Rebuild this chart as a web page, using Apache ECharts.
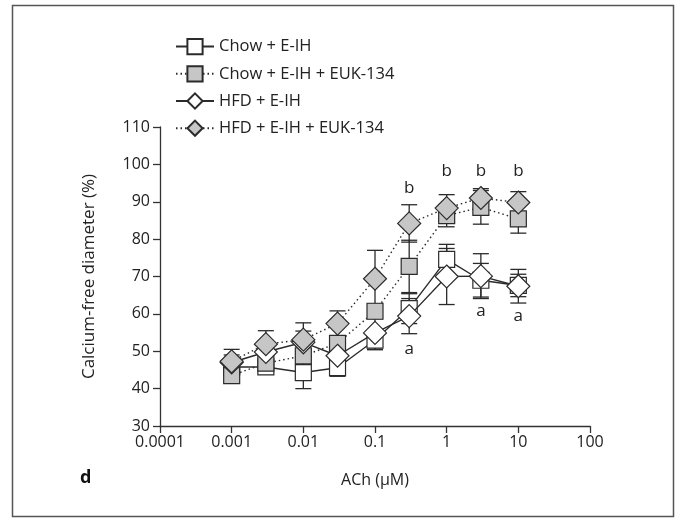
<!DOCTYPE html>
<html>
<head>
<meta charset="utf-8">
<script src="https://cdn.jsdelivr.net/npm/echarts@6/dist/echarts.min.js"></script>
<style>html,body{margin:0;padding:0;background:#fff}#c{width:677px;height:518px}</style>
</head>
<body>
<div id="c"></div>
<script>
// ---- data ----
const concentrations = [0.001, 0.003, 0.01, 0.03, 0.1, 0.3, 1, 3, 10];
const chowEIH      = [45.8, 45.8, 44.3, 45.6, 53.0, 61.4, 74.6, 69.0, 67.6];
const chowEIHErr   = [2.0, 1.5, 4.3, 2.3, 2.5, 4.0, 4.0, 4.5, 3.0];
const chowEUK      = [43.5, 46.8, 48.8, 52.1, 60.7, 72.7, 86.3, 88.5, 85.4];
const chowEUKErr   = [2.0, 2.7, 2.5, 2.0, 2.0, 7.0, 3.0, 4.5, 3.8];
const hfdEIH       = [47.0, 49.8, 52.4, 48.8, 54.9, 59.4, 70.0, 70.1, 67.4];
const hfdEIHErr    = [2.0, 2.0, 3.0, 3.0, 4.5, 4.7, 7.5, 6.0, 4.5];
const hfdEUK       = [47.3, 51.9, 53.1, 57.4, 69.4, 84.2, 88.3, 91.0, 89.8];
const hfdEUKErr    = [3.2, 3.6, 4.5, 3.4, 7.6, 5.0, 3.6, 2.5, 2.9];
const seriesNames  = ['Chow + E-IH', 'Chow + E-IH + EUK-134', 'HFD + E-IH', 'HFD + E-IH + EUK-134'];
const xTickLabels  = ['0.0001', '0.001', '0.01', '0.1', '1', '10', '100'];
const yTicks       = [30, 40, 50, 60, 70, 80, 90, 100, 110];
const annX         = [0.3, 1, 3, 10, 0.3, 3, 10];
const annY         = [93.6, 98.2, 98.2, 98.2, 50.6, 60.6, 59.3];
const annText      = ['b', 'b', 'b', 'b', 'a', 'a', 'a'];

const FONT = '"Open Sans"';
const INK = '#2b2b2b';
const GREY = '#c6c6c6';

function pairs(vals) { return concentrations.map((x, i) => [x, vals[i]]); }
function errData(vals, errs) { return concentrations.map((x, i) => [x, vals[i], errs[i]]); }

function errSeries(vals, errs, z) {
  return {
    type: 'custom',
    z: z,
    silent: true,
    data: errData(vals, errs),
    renderItem: function (params, api) {
      const x = api.value(0), y = api.value(1), e = api.value(2);
      const top = api.coord([x, y + e]);
      const bot = api.coord([x, y - e]);
      const w = 8;
      const st = { stroke: INK, lineWidth: 1.3 };
      return {
        type: 'group',
        children: [
          { type: 'line', shape: { x1: top[0], y1: top[1], x2: bot[0], y2: bot[1] }, style: st },
          { type: 'line', shape: { x1: top[0] - w, y1: top[1], x2: top[0] + w, y2: top[1] }, style: st },
          { type: 'line', shape: { x1: bot[0] - w, y1: bot[1], x2: bot[0] + w, y2: bot[1] }, style: st }
        ]
      };
    }
  };
}

function lineSeries(name, vals, symbol, size, fill, dotted, z) {
  return {
    type: 'line',
    name: name,
    z: z,
    data: pairs(vals),
    symbol: symbol,
    symbolSize: size,
    showAllSymbol: true,
    itemStyle: { color: fill, borderColor: INK, borderWidth: 1.2, opacity: 1 },
    lineStyle: { color: INK, width: 1.4, type: dotted ? [1.5, 3] : 'solid' },
    emphasis: { disabled: true },
    animation: false
  };
}

const chart = echarts.init(document.getElementById('c'), null, { renderer: 'canvas' });
chart.setOption({
  animation: false,
  backgroundColor: '#fff',
  graphic: [
    { type: 'rect', shape: { x: 12.5, y: 5.5, width: 661, height: 511 }, style: { fill: 'none', stroke: '#555', lineWidth: 1.5 }, z: -1 },
    { type: 'text', left: 80, top: 469, style: { text: 'd', font: 'bold 18px ' + FONT, fill: '#111' } }
  ],
  legend: {
    orient: 'vertical',
    left: 170,
    top: 33,
    itemGap: 10,
    itemWidth: 38,
    itemHeight: 19,
    data: seriesNames,
    textStyle: { fontFamily: FONT, fontSize: 16.5, color: '#222', padding: [0, 0, 0, 0] },
    selectedMode: false
  },
  grid: { left: 160, right: 87, top: 127, bottom: 92, containLabel: false },
  xAxis: {
    type: 'log',
    logBase: 10,
    min: 0.0001,
    max: 100,
    name: 'ACh (μM)',
    nameLocation: 'middle',
    nameGap: 46,
    nameTextStyle: { fontFamily: FONT, fontSize: 16, color: '#222' },
    axisLine: { lineStyle: { color: '#333', width: 1.3 } },
    axisTick: { inside: false, length: 7, lineStyle: { color: '#333', width: 1.3 } },
    axisLabel: {
      fontFamily: FONT, fontSize: 16, color: '#222', margin: 8,
      formatter: function (v) { const i = Math.round(Math.log10(v)) + 4; return xTickLabels[i] || ''; }
    },
    splitLine: { show: false },
    minorTick: { show: false }
  },
  yAxis: {
    type: 'value',
    min: yTicks[0],
    max: yTicks[yTicks.length - 1],
    interval: 10,
    name: 'Calcium-free diameter (%)',
    nameLocation: 'middle',
    nameGap: 62,
    nameRotate: 90,
    nameTextStyle: { fontFamily: FONT, fontSize: 17, color: '#222' },
    axisLine: { show: true, lineStyle: { color: '#333', width: 1.3 } },
    axisTick: { show: true, inside: false, length: 7, lineStyle: { color: '#333', width: 1.3 } },
    axisLabel: { fontFamily: FONT, fontSize: 16, color: '#222', margin: 10 },
    splitLine: { show: false }
  },
  series: [
    errSeries(chowEIH, chowEIHErr, 1),
    errSeries(chowEUK, chowEUKErr, 1),
    errSeries(hfdEIH, hfdEIHErr, 1),
    errSeries(hfdEUK, hfdEUKErr, 1),
    lineSeries(seriesNames[0], chowEIH, 'rect', 16, '#fff', false, 2),
    lineSeries(seriesNames[1], chowEUK, 'rect', 16, GREY, true, 3),
    lineSeries(seriesNames[2], hfdEIH, 'diamond', 23, '#fff', false, 4),
    lineSeries(seriesNames[3], hfdEUK, 'diamond', 23, GREY, true, 5),
    {
      type: 'custom',
      z: 6,
      silent: true,
      data: annX.map((x, i) => [x, annY[i], i]),
      renderItem: function (params, api) {
        const p = api.coord([api.value(0), api.value(1)]);
        return {
          type: 'text',
          x: p[0], y: p[1],
          style: { text: annText[api.value(2)], font: '17px ' + FONT, fill: '#222', align: 'center', verticalAlign: 'middle' }
        };
      }
    }
  ]
});
</script>
</body>
</html>
